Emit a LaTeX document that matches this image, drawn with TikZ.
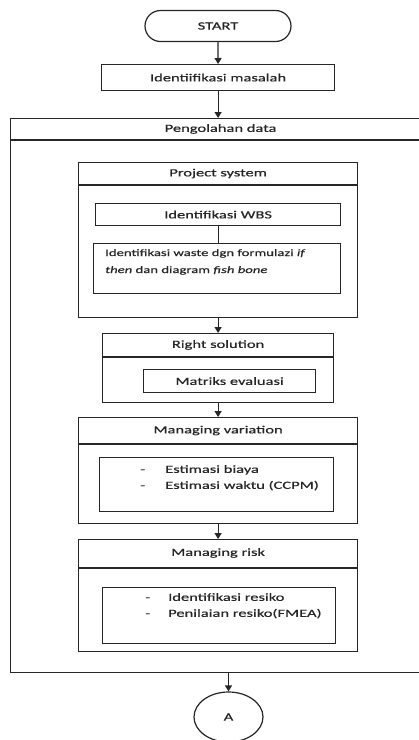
\documentclass[tikz,border=0pt]{standalone}
\usepackage{fontspec}
\setmainfont{Carlito}[FakeStretch=1.5,FakeBold=0.5]
\usetikzlibrary{arrows.meta,calc,shapes.geometric}
\begin{document}
\begin{tikzpicture}[x=1pt,y=-1pt,
  line/.style={draw=black!85,line width=1.2pt},
  box/.style={line,rectangle,anchor=north west,inner sep=0pt},
  lbl/.style={font=\fontsize{11}{16}\selectfont,text=black!85,inner sep=0pt},
  flow/.style={line,-{Triangle[length=6pt,width=7pt]}},
]
\useasboundingbox[clip] (0,0) rectangle (419,740);
\fill[white] (0,0) rectangle (419,740);

% start and first step
\node[line,lbl,minimum width=146pt,minimum height=31pt,rounded corners=15.5pt] (start) at (218,26) {START};
\node[box,minimum width=233pt,minimum height=26pt] (ident) at (101,64) {};
\node[lbl] (t-ident) at (ident.center) {Identiifikasi masalah};

% outer frame: data processing
\node[box,minimum width=420pt,minimum height=554pt] (outer) at (10,118) {};
\draw[line] ($(outer.north west)+(0,22)$) -- ($(outer.north east)+(0,22)$);
\node[lbl] (t-outer) at ($(outer.north)+(0,11)$) {Pengolahan data};

% project system
\node[box,minimum width=279pt,minimum height=155pt] (ps) at (78,162) {};
\draw[line] ($(ps.north west)+(0,23)$) -- ($(ps.north east)+(0,23)$);
\node[lbl] (t-ps) at ($(ps.north)+(0,11.5)$) {Project system};
\node[box,minimum width=245pt,minimum height=22pt] (wbs) at (95,203) {};
\node[lbl] (t-wbs) at (wbs.center) {Identifikasi WBS};
\node[box,minimum width=247pt,minimum height=50pt] (waste) at (93,243) {};
\node[lbl,font=\fontsize{9.8}{17}\selectfont,anchor=north west,align=left] (t-waste) at (105,249)
  {Identifikasi waste dgn formulazi \textit{if}\\\textit{then} dan diagram \textit{fish bone}};
\draw[line] (wbs.south) -- (wbs.south |- waste.north);

% right solution
\node[box,minimum width=231pt,minimum height=69pt] (rs) at (102,333) {};
\draw[line] ($(rs.north west)+(0,24)$) -- ($(rs.north east)+(0,24)$);
\node[lbl] (t-rs) at ($(rs.north)+(0,12)$) {Right solution};
\node[box,minimum width=172pt,minimum height=23pt] (mat) at (143,369) {};
\node[lbl] (t-mat) at (mat.center) {Matriks evaluasi};

% managing variation
\node[box,minimum width=279pt,minimum height=106pt] (mv) at (78,417) {};
\draw[line] ($(mv.north west)+(0,27)$) -- ($(mv.north east)+(0,27)$);
\node[lbl] (t-mv) at ($(mv.north)+(0,13.5)$) {Managing variation};
\node[box,minimum width=234pt,minimum height=54pt] (mvin) at (99,457) {};
\node[lbl,anchor=north west,align=left] (t-mvin) at (140,465)
  {\makebox[25pt][l]{-}Estimasi biaya\\\makebox[25pt][l]{-}Estimasi waktu (CCPM)};

% managing risk
\node[box,minimum width=279pt,minimum height=112pt] (mr) at (78,539) {};
\draw[line] ($(mr.north west)+(0,29)$) -- ($(mr.north east)+(0,29)$);
\node[lbl] (t-mr) at ($(mr.north)+(0,14)$) {Managing risk};
\node[box,minimum width=233pt,minimum height=56pt] (mrin) at (102,587) {};
\node[lbl,anchor=north west,align=left] (t-mrin) at (145,593)
  {\makebox[23pt][l]{-}Identifikasi resiko\\\makebox[23pt][l]{-}Penilaian resiko(FMEA)};

% connector to next page
\node[line,lbl,ellipse,minimum width=69pt,minimum height=50pt] (A) at (228.5,717) {A};

% arrows
\draw[flow] (start.south) -- (ident.north);
\draw[flow] (ident.south) -- (ident.south |- outer.north);
\draw[flow] (ps.south) -- (rs.north);
\draw[flow] (rs.south) -- (mv.north);
\draw[flow] (mv.south) -- (mr.north);
\draw[flow] (A.north |- outer.south) -- (A.north);
\end{tikzpicture}
\end{document}
